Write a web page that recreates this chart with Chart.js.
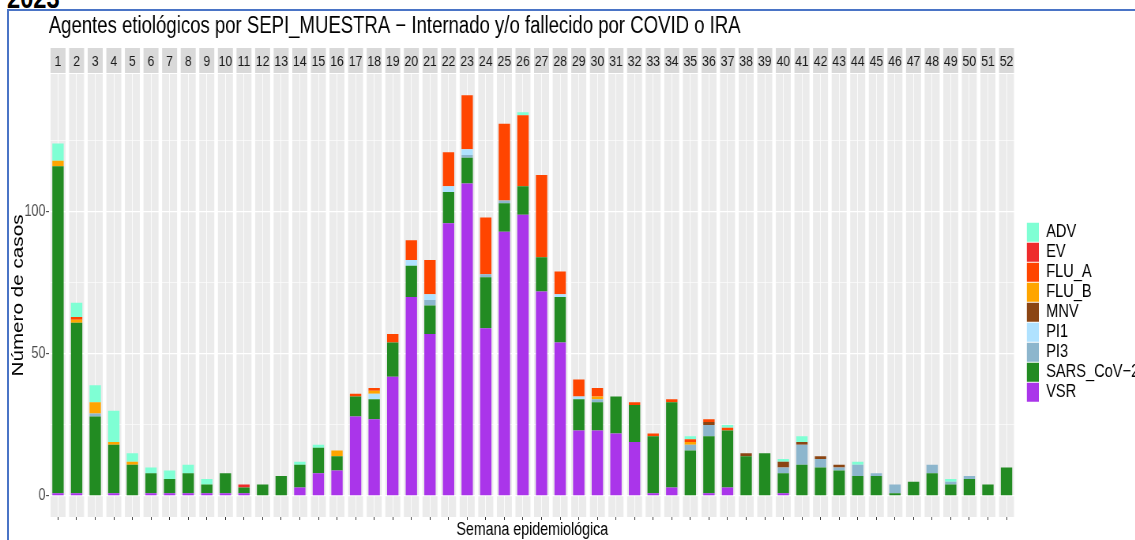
<!DOCTYPE html>
<html>
<head>
<meta charset="utf-8">
<title>Agentes etiológicos por SEPI_MUESTRA</title>
<script src="https://cdn.jsdelivr.net/npm/chart.js@4.4.1/dist/chart.umd.min.js"></script>
<style>
  html, body { margin: 0; padding: 0; background: #fff; overflow: hidden; }
  body { width: 1135px; height: 540px; position: relative; }
  #year { position: absolute; left: 7px; top: -19px; line-height: 30px; color: #000;
          font: bold 30px "Liberation Sans", Arial, sans-serif;
          transform: scaleX(0.79); transform-origin: 0 0; }
  #frame { position: absolute; left: 7px; top: 9px; width: 2000px; height: 2000px; z-index: 2;
           border-left: 2px solid #4a74c6; border-top: 2px solid #4a74c6; pointer-events: none; }
  /* the source picture is squeezed horizontally; draw wide and squeeze the same way */
  #chart { position: absolute; left: 0; top: 0; transform: scaleX(0.79); transform-origin: 0 0; }
</style>
</head>
<body>
<div id="year">2023</div>
<div id="frame"></div>
<canvas id="chart"></canvas>
<script>
// semanas epidemiologicas (facetas)
const weeks = ['1','2','3','4','5','6','7','8','9','10','11','12','13','14','15','16','17','18','19','20',
               '21','22','23','24','25','26','27','28','29','30','31','32','33','34','35','36','37','38','39','40',
               '41','42','43','44','45','46','47','48','49','50','51','52'];

// casos por agente y semana
const VSR   = [1,1,0,1,0,1,1,1,1,1, 1,0,0,3,8,9,28,27,42,70, 57,96,110,59,93,99,72,54,23,23, 22,19,1,3,0,1,3,0,0,1, 0,0,0,0,0,0,0,0,0,0, 0,0];
const SARS  = [115,60,28,17,11,7,5,7,3,7, 2,4,7,8,9,5,7,7,12,11, 10,11,9,18,10,10,12,16,11,10, 13,13,20,30,16,20,20,14,15,7, 11,10,9,7,7,1,5,8,4,6, 4,10];
const PI3   = [0,0,1,0,0,0,0,0,0,0, 0,0,0,0,0,0,0,0,0,0, 2,0,1,1,1,0,0,0,0,1, 0,0,0,0,2,4,0,0,0,2, 7,3,1,4,1,3,0,3,1,1, 0,0];
const PI1   = [0,0,0,0,0,0,0,0,0,0, 0,0,0,0,0,0,0,2,0,2, 2,2,2,0,0,0,0,1,1,0, 0,0,0,0,0,0,0,0,0,0, 0,0,0,0,0,0,0,0,0,0, 0,0];
const MNV   = [0,0,0,0,0,0,0,0,0,0, 0,0,0,0,0,0,0,0,0,0, 0,0,0,0,0,0,0,0,0,0, 0,0,0,0,0,1,0,1,0,2, 1,1,1,0,0,0,0,0,0,0, 0,0];
const FLU_B = [2,1,4,1,1,0,0,0,0,0, 0,0,0,0,0,2,0,1,0,0, 0,0,0,0,0,0,0,0,0,1, 0,0,0,0,1,0,0,0,0,0, 0,0,0,0,0,0,0,0,0,0, 0,0];
const FLU_A = [0,1,0,0,0,0,0,0,0,0, 0,0,0,0,0,0,1,1,3,7, 12,12,19,20,27,25,29,8,6,3, 0,1,1,1,1,1,1,0,0,0, 0,0,0,0,0,0,0,0,0,0, 0,0];
const EV    = [0,0,0,0,0,0,0,0,0,0, 1,0,0,0,0,0,0,0,0,0, 0,0,0,0,0,0,0,0,0,0, 0,0,0,0,0,0,0,0,0,0, 0,0,0,0,0,0,0,0,0,0, 0,0];
const ADV   = [6,5,6,11,3,2,3,3,2,0, 0,0,0,1,1,0,0,0,0,0, 0,0,0,0,0,1,0,0,0,0, 0,0,0,0,1,0,1,0,0,1, 2,0,0,1,0,0,0,0,1,0, 0,0];

// orden de apilado: de abajo hacia arriba
const agents = ['VSR', 'SARS_CoV−2', 'PI3', 'PI1', 'MNV', 'FLU_B', 'FLU_A', 'EV', 'ADV'];
const series = [VSR, SARS, PI3, PI1, MNV, FLU_B, FLU_A, EV, ADV];
const colors = ['#aa35ea', '#228b22', '#8db6cd', '#b0e2ff', '#8b4513', '#ffa500', '#ff4500', '#ee2c2c', '#7fffd4'];

const yTicks = [0, 25, 50, 75, 100, 125];
const yLabelled = [0, 50, 100];

const FONT = '"Liberation Sans", Arial, sans-serif';

// layout: x values are in canvas units, the canvas is squeezed by SX on screen
const SX = 0.79;
const PLOT_LEFT = 48.7 / SX, PLOT_RIGHT = 1015.8 / SX, LEGEND_LEFT = 1026 / SX;
const PLOT_TOP = 74, PLOT_BOTTOM = 517, STRIP_TOP = 48, HEIGHT = 540;
const PANEL_HALF = 7.5 / SX;
const BOX_W = 12 / SX, LEGEND_SIZE = 18.5;

// legend width (Chart.js adds 10 to a vertical legend) so it starts at LEGEND_LEFT
const meas = document.createElement('canvas').getContext('2d');
meas.font = LEGEND_SIZE + 'px ' + FONT;
const legendW = 1 + BOX_W + LEGEND_SIZE / 2 + Math.max(...agents.map(a => meas.measureText(a).width)) + 10;
const W = Math.ceil(LEGEND_LEFT + legendW);
const gapW = (W - legendW) - PLOT_RIGHT;

// grey facet strips and panels behind the bars
const facetPanels = {
    id: 'facetPanels',
    beforeDraw(chart) {
        const {ctx, chartArea} = chart;
        const x = chart.scales.x;
        ctx.save();
        weeks.forEach((w, i) => {
            const c = x.getPixelForValue(i);
            ctx.fillStyle = '#d9d9d9';
            ctx.fillRect(c - PANEL_HALF, STRIP_TOP, 2 * PANEL_HALF, PLOT_TOP - STRIP_TOP - 1);
            ctx.fillStyle = '#ebebeb';
            ctx.fillRect(c - PANEL_HALF, chartArea.top, 2 * PANEL_HALF, chartArea.bottom - chartArea.top);
        });
        ctx.restore();
    }
};

const canvas = document.getElementById('chart');
canvas.width = W;
canvas.height = HEIGHT;

Chart.defaults.font.family = FONT;

new Chart(canvas.getContext('2d'), {
    type: 'bar',
    data: {
        labels: weeks,
        datasets: agents.map((a, k) => ({
            label: a,
            data: series[k],
            backgroundColor: colors[k],
            borderWidth: 0,
            barPercentage: 0.61,
            categoryPercentage: 1
        }))
    },
    options: {
        responsive: false,
        animation: false,
        layout: { padding: 0 },
        scales: {
            x: {
                position: 'bottom',
                stacked: true,
                offset: true,
                grid: { offset: false, color: '#ffffff', lineWidth: 0.8, tickColor: '#333333', tickLength: 3, tickWidth: 1 },
                border: { display: false },
                ticks: { display: false },
                title: {
                    display: true,
                    text: 'Semana epidemiológica',
                    color: '#000',
                    font: { size: 18, lineHeight: 1 },
                    padding: { top: 0, bottom: 0.5 }
                },
                afterFit: s => { s.height = HEIGHT - PLOT_BOTTOM; }
            },
            x2: {
                type: 'category',
                position: 'top',
                labels: weeks,
                offset: true,
                grid: { display: false, drawTicks: false },
                border: { display: false },
                ticks: { color: '#1a1a1a', font: { size: 15.5, lineHeight: 1.2 }, padding: 3.3, maxRotation: 0, autoSkip: false },
                afterFit: s => { s.height = PLOT_TOP - STRIP_TOP; }
            },
            y: {
                stacked: true,
                min: -7.4,
                max: 148.5,
                afterBuildTicks: s => { s.ticks = yTicks.map(v => ({ value: v })); },
                grid: {
                    color: '#ffffff',
                    lineWidth: c => (c.tick && yLabelled.includes(c.tick.value)) ? 1.3 : 0.6,
                    tickColor: c => (c.tick && yLabelled.includes(c.tick.value)) ? '#333333' : 'rgba(0,0,0,0)',
                    tickLength: 3.5,
                    tickWidth: 1
                },
                border: { display: false },
                ticks: {
                    color: '#4d4d4d',
                    font: { size: 16 },
                    padding: 0.5,
                    callback: v => yLabelled.includes(v) ? String(v) : ''
                },
                title: {
                    display: true,
                    text: 'Número de casos',
                    color: '#000',
                    font: { size: 20.7, lineHeight: 1.2 },
                    padding: { top: 10.6, bottom: 0 }
                },
                afterFit: s => { s.width = PLOT_LEFT; }
            },
            y2: {
                type: 'linear',
                position: 'right',
                grid: { display: false, drawTicks: false },
                border: { display: false },
                ticks: { display: false },
                afterFit: s => { s.width = gapW; }
            }
        },
        plugins: {
            title: {
                display: true,
                text: 'Agentes etiológicos por SEPI_MUESTRA − Internado y/o fallecido por COVID o IRA',
                align: 'start',
                fullSize: false,
                color: '#000',
                font: { size: 23.5, weight: 'normal', lineHeight: 1.2 },
                padding: { top: 12.5, bottom: 7.3 }
            },
            legend: {
                position: 'right',
                align: 'start',
                fullSize: false,
                reverse: true,
                title: { display: true, text: ' ', font: { size: 10, lineHeight: 1 }, padding: { top: 137.7, bottom: 0 } },
                labels: {
                    boxWidth: BOX_W,
                    boxHeight: 19,
                    padding: 1,
                    color: '#000',
                    font: { size: LEGEND_SIZE, lineHeight: 1 }
                }
            },
            tooltip: { enabled: false }
        }
    },
    plugins: [facetPanels]
});
</script>
</body>
</html>
